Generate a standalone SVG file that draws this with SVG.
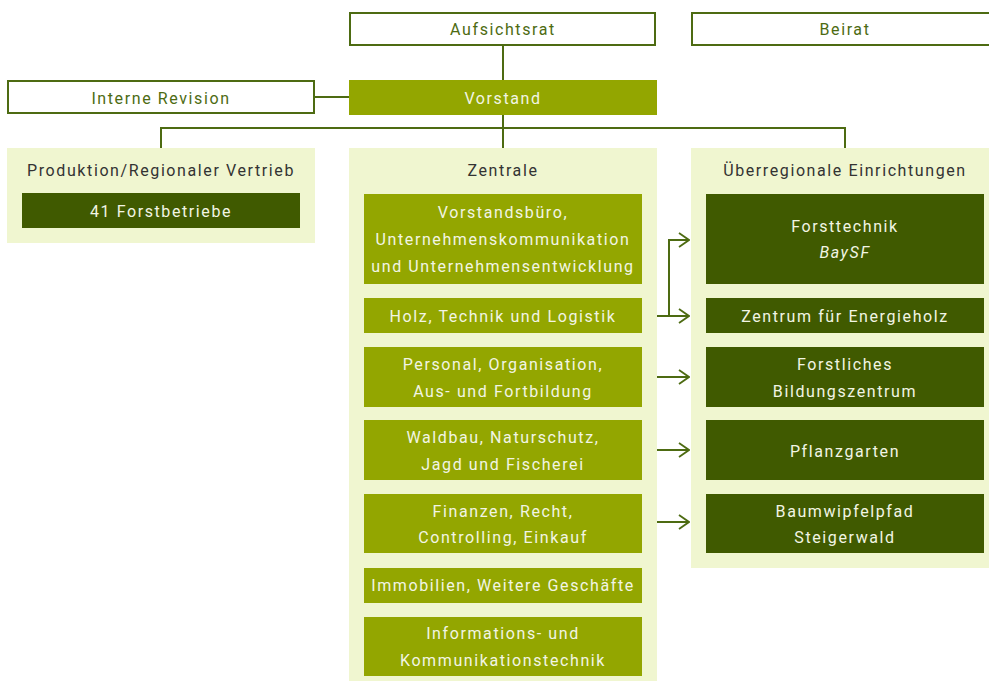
<svg xmlns="http://www.w3.org/2000/svg" width="989" height="681" viewBox="0 0 989 681">
<defs>
<style>
text{font-family:Roboto,"Liberation Sans",sans-serif;font-size:16px;letter-spacing:1.6px;text-anchor:middle}
.outline{fill:#fff;stroke:#4d6b12;stroke-width:2}
.ot{fill:#4d6b12}
.panel{fill:#f0f6d0}
.ht{fill:#333}
.mid{fill:#93a600}
.dark{fill:#405a00}
.wt{fill:#f2f5e4}
.line{fill:none;stroke:#4d6b12;stroke-width:2}
</style>
<marker id="ah" markerWidth="12" markerHeight="16" refX="11" refY="8" orient="auto" markerUnits="userSpaceOnUse">
<path d="M1,1 L11,8 L1,15" fill="none" stroke="#4d6b12" stroke-width="1.8"/>
</marker>
</defs>
<g id="connectors">
<path class="line" d="M503,45 V148"/>
<path class="line" d="M314,97 H349"/>
<path class="line" d="M161,148 V128 H845 V148"/>
<path class="line" d="M656,316 H689" marker-end="url(#ah)"/>
<path class="line" d="M669,316 V240 H689" marker-end="url(#ah)"/>
<path class="line" d="M656,377 H689" marker-end="url(#ah)"/>
<path class="line" d="M656,450 H689" marker-end="url(#ah)"/>
<path class="line" d="M656,522 H689" marker-end="url(#ah)"/>
</g>
<g id="aufsichtsrat"><rect class="outline" x="350" y="13" width="305" height="32"/><text class="ot" x="503" y="35">Aufsichtsrat</text></g>
<g id="beirat"><rect class="outline" x="692" y="13" width="305" height="32"/><text class="ot" x="845" y="35">Beirat</text></g>
<g id="vorstand"><rect class="mid" x="349" y="80" width="308" height="35"/><text class="wt" x="503" y="104">Vorstand</text></g>
<g id="interne-revision"><rect class="outline" x="8" y="81" width="306" height="32"/><text class="ot" x="161" y="104">Interne Revision</text></g>
<g id="produktion"><rect class="panel" x="7" y="148" width="308" height="95"/><text class="ht" x="161" y="176">Produktion/Regionaler Vertrieb</text>
<rect class="dark" x="22" y="193" width="278" height="35"/><text class="wt" x="161" y="217">41 Forstbetriebe</text></g>
<g id="zentrale"><rect class="panel" x="349" y="148" width="308" height="533"/><text class="ht" x="503" y="176">Zentrale</text></g>
<g id="vorstandsbuero"><rect class="mid" x="364" y="194" width="278" height="90"/><text class="wt" x="503" y="218">Vorstandsbüro,</text><text class="wt" x="503" y="245">Unternehmenskommunikation</text><text class="wt" x="503" y="272">und Unternehmensentwicklung</text></g>
<g id="holz"><rect class="mid" x="364" y="298" width="278" height="35"/><text class="wt" x="503" y="322">Holz, Technik und Logistik</text></g>
<g id="personal"><rect class="mid" x="364" y="347" width="278" height="60"/><text class="wt" x="503" y="370">Personal, Organisation,</text><text class="wt" x="503" y="397">Aus- und Fortbildung</text></g>
<g id="waldbau"><rect class="mid" x="364" y="420" width="278" height="60"/><text class="wt" x="503" y="443">Waldbau, Naturschutz,</text><text class="wt" x="503" y="470">Jagd und Fischerei</text></g>
<g id="finanzen"><rect class="mid" x="364" y="494" width="278" height="59"/><text class="wt" x="503" y="517">Finanzen, Recht,</text><text class="wt" x="503" y="543">Controlling, Einkauf</text></g>
<g id="immobilien"><rect class="mid" x="364" y="568" width="278" height="35"/><text class="wt" x="503" y="591">Immobilien, Weitere Geschäfte</text></g>
<g id="informations"><rect class="mid" x="364" y="617" width="278" height="59"/><text class="wt" x="503" y="639">Informations- und</text><text class="wt" x="503" y="666">Kommunikationstechnik</text></g>
<g id="ueberregional"><rect class="panel" x="691" y="148" width="298" height="420"/><text class="ht" x="845" y="176">Überregionale Einrichtungen</text></g>
<g id="forsttechnik"><rect class="dark" x="706" y="194" width="278" height="90"/><text class="wt" x="845" y="232">Forsttechnik</text><text class="wt" x="845" y="258" font-style="italic">BaySF</text></g>
<g id="energieholz"><rect class="dark" x="706" y="298" width="278" height="35"/><text class="wt" x="845" y="322">Zentrum für Energieholz</text></g>
<g id="bildungszentrum"><rect class="dark" x="706" y="347" width="278" height="60"/><text class="wt" x="845" y="370">Forstliches</text><text class="wt" x="845" y="397">Bildungszentrum</text></g>
<g id="pflanzgarten"><rect class="dark" x="706" y="420" width="278" height="60"/><text class="wt" x="845" y="457">Pflanzgarten</text></g>
<g id="baumwipfelpfad"><rect class="dark" x="706" y="494" width="278" height="59"/><text class="wt" x="845" y="517">Baumwipfelpfad</text><text class="wt" x="845" y="543">Steigerwald</text></g>
</svg>
